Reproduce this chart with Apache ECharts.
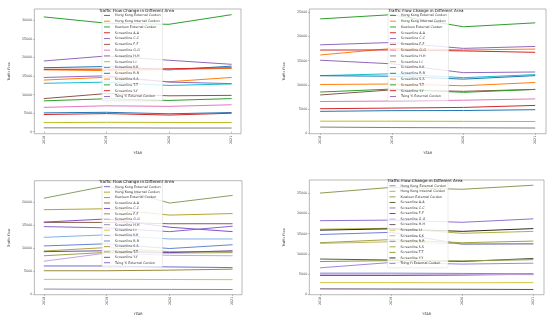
<!DOCTYPE html>
<html>
<head>
<meta charset="utf-8">
<script src="https://cdn.jsdelivr.net/npm/echarts@6/dist/echarts.min.js"></script>
<style>
html,body{margin:0;padding:0;background:#fff;}
#wrap{position:relative;width:550px;height:321px;overflow:hidden;}
.c{position:absolute;}
</style>
</head>
<body>
<div id="wrap">
  <div id="c1" class="c" style="left:0;top:0;width:275px;height:160px"></div>
  <div id="c2" class="c" style="left:275px;top:0;width:275px;height:160px"></div>
  <div id="c3" class="c" style="left:0;top:160px;width:275px;height:161px"></div>
  <div id="c4" class="c" style="left:275px;top:160px;width:275px;height:161px"></div>
</div>
<script>
const years = [2018, 2019, 2020, 2021];
const areaNames = ['Hong Kong External Cordon','Hong Kong Internal Cordon','Kowloon External Cordon',
  'Screenline A-A','Screenline C-C','Screenline F-F','Screenline G-G','Screenline H-H','Screenline I-I',
  'Screenline K-K','Screenline R-R','Screenline S-S','Screenline T-T','Screenline Y-Y','Tsing Yi External Cordon'];
const titleText = 'Traffic Flow Change in Different Area';
const yTickValues = [0, 5000, 10000, 15000, 20000, 25000, 30000];

const chartA = [
  [5090, 5250, 4850, 5180],
  [13950, 14700, 13500, 14650],
  [31000, 29300, 29000, 31600],
  [4650, 4900, 4500, 5000],
  [19100, 20450, 19300, 18200],
  [8950, 10300, 9700, 9820],
  [6580, 7000, 6850, 7280],
  [1050, 1050, 1000, 1000],
  [2460, 2550, 2500, 2500],
  [13070, 13400, 12500, 12900],
  [17280, 17600, 16700, 17710],
  [16700, 16500, 16800, 17100],
  [8340, 8900, 8450, 8950],
  [16840, 16900, 17000, 17280],
  [14650, 15100, 13400, 13000]
];
const chartB = [
  [4580, 4720, 4750, 4920],
  [16170, 17500, 17200, 17380],
  [23580, 24450, 21960, 22770],
  [5120, 5250, 5390, 5800],
  [18250, 18730, 17520, 17920],
  [7950, 9000, 8700, 9090],
  [6600, 6700, 6870, 7140],
  [1350, 1250, 1200, 1150],
  [2560, 2560, 2520, 2490],
  [11920, 12300, 11500, 12130],
  [11900, 11800, 11200, 11920],
  [10100, 10200, 9840, 10510],
  [8550, 9160, 8490, 9090],
  [17180, 17200, 17000, 16710],
  [15090, 14350, 12530, 12670]
];
const chartC = [
  [6200, 6200, 6000, 5850],
  [18390, 18600, 17220, 17560],
  [20870, 23550, 19830, 21490],
  [15640, 15640, 15350, 15350],
  [15700, 16390, 14600, 13640],
  [5165, 5165, 5300, 5510],
  [7230, 9000, 8500, 8410],
  [1200, 1150, 1130, 1100],
  [3300, 3300, 3270, 3240],
  [12400, 12950, 12050, 12050],
  [10540, 11010, 9980, 10800],
  [9440, 10190, 9300, 9300],
  [8410, 9150, 9000, 9090],
  [9300, 9500, 9100, 9500],
  [14730, 14460, 13640, 14810]
];
const chartD = [
  [5270, 5270, 5200, 5100],
  [16100, 16330, 15090, 15560],
  [25000, 26400, 25940, 26940],
  [4710, 4710, 4800, 5000],
  [18200, 18340, 17800, 18650],
  [8750, 8500, 8130, 8900],
  [5000, 5050, 4950, 4900],
  [1390, 1350, 1300, 1240],
  [2940, 2940, 2900, 2940],
  [12600, 13000, 12500, 12470],
  [14790, 15320, 12400, 12500],
  [12770, 13540, 12770, 13170],
  [8130, 8360, 8300, 8590],
  [15860, 16200, 15560, 16250],
  [6580, 7900, 7500, 7730]
];

const tab10 = ['#1f77b4','#ff7f0e','#2ca02c','#d62728','#9467bd','#8c564b','#e377c2','#7f7f7f','#bcbd22','#17becf',
               '#1f77b4','#ff7f0e','#2ca02c','#d62728','#9467bd'];
const paletteC = ['#6f6fd0','#b4a62e','#86a060','#8a5f48','#8450c4','#9c8a3c','#c4a4e4','#9484b0','#d4c440','#84b0e4',
                  '#6484d4','#b0a440','#9ea250','#6e4ea0','#8464d4'];
const paletteD = ['#8080d4','#b4b040','#8a9c52','#5e5e30','#9070d4','#4e6040','#c4a4e4','#605064','#d4c844','#c4b474',
                  '#7080d4','#a4a440','#8a9c40','#2e2e20','#a484e4'];

const FONT = 'DejaVu Sans';

function build(values, palette, g) {
  return {
    animation: false,
    backgroundColor: '#fff',
    title: {
      text: titleText, left: g.left + g.width / 2, top: g.titleTop, textAlign: 'center',
      textStyle: {fontFamily: FONT, fontSize: 4.1, fontWeight: 'normal', color: '#222'}
    },
    legend: {
      orient: 'vertical', left: g.legLeft, top: g.legTop,
      data: areaNames,
      itemWidth: 6, itemHeight: 4, itemGap: 0,
      padding: [1.5, 2, 1.5, 2],
      backgroundColor: 'rgba(255,255,255,0.82)',
      borderColor: '#d4d4d4', borderWidth: 0.5, borderRadius: 1,
      textStyle: {fontFamily: FONT, fontSize: 3.3, color: '#333', lineHeight: g.legStep},
      icon: 'path://M0,0 L10,0 L10,1.6 L0,1.6 Z'
    },
    grid: {
      left: g.left, top: g.top, width: g.width, height: g.height,
      show: true, borderColor: '#8a8a8a', borderWidth: 0.6, containLabel: false
    },
    xAxis: {
      type: 'value', min: 2017.85, max: 2021.15,
      name: 'YEAR', nameLocation: 'middle', nameGap: g.xGap,
      nameTextStyle: {fontFamily: FONT, fontSize: 3.3, color: '#333'},
      axisLine: {show: false},
      axisTick: {show: true, length: 1.2, lineStyle: {color: '#666', width: 0.5}, customValues: years},
      axisLabel: {rotate: 90, fontFamily: FONT, fontSize: 3.3, color: '#444', margin: 2,
                  customValues: years, formatter: v => String(v)},
      splitLine: {show: false}
    },
    yAxis: {
      type: 'value',
      min: v => v.min - 0.05 * (v.max - v.min),
      max: v => v.max + 0.05 * (v.max - v.min),
      name: 'Traffic Flow', nameLocation: 'middle', nameGap: g.yGap,
      nameTextStyle: {fontFamily: FONT, fontSize: 3.3, color: '#333'},
      axisLine: {show: false},
      axisTick: {show: true, length: 1.2, lineStyle: {color: '#666', width: 0.5}, customValues: yTickValues},
      axisLabel: {fontFamily: FONT, fontSize: 3.3, color: '#444', margin: 2,
                  customValues: yTickValues, formatter: v => String(v)},
      splitLine: {show: false}
    },
    series: areaNames.map((name, i) => ({
      name: name, type: 'line', symbol: 'none', showSymbol: false,
      color: palette[i],
      lineStyle: {width: 1, color: palette[i]},
      data: years.map((y, j) => [y, values[i][j]])
    }))
  };
}

const layouts = [
  {id: 'c1', values: chartA, palette: tab10,
   g: {left: 22, top: 9, width: 219, height: 128, titleTop: 4, legLeft: 102, legTop: 11, legStep: 5.79, xGap: 16, yGap: 15}},
  {id: 'c2', values: chartB, palette: tab10,
   g: {left: 21, top: 9, width: 250, height: 128, titleTop: 4, legLeft: 113, legTop: 11, legStep: 5.79, xGap: 16, yGap: 16.5}},
  {id: 'c3', values: chartC, palette: paletteC,
   g: {left: 21, top: 20.7, width: 221, height: 118.8, titleTop: 14.7, legLeft: 102, legTop: 22.5, legStep: 5.43, xGap: 15.5, yGap: 16}},
  {id: 'c4', values: chartD, palette: paletteD,
   g: {left: 21, top: 20, width: 248, height: 122, titleTop: 13.7, legLeft: 112.5, legTop: 21.5, legStep: 5.55, xGap: 14.7, yGap: 15}}
];

layouts.forEach(L => {
  const chart = echarts.init(document.getElementById(L.id), null, {renderer: 'canvas'});
  chart.setOption(build(L.values, L.palette, L.g));
});
</script>
</body>
</html>
